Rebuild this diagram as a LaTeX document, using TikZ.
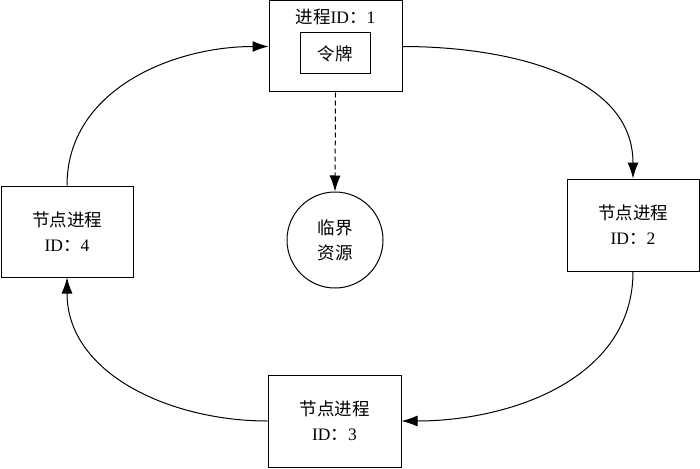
\documentclass[tikz,border=0pt]{standalone}
\usepackage{fontspec}
\setmainfont{Liberation Serif}
\newfontfamily\cjk{Noto Sans CJK SC}
\usetikzlibrary{arrows.meta}
\begin{document}
\begin{tikzpicture}[x=1pt,y=-1pt,
  box/.style={draw,line width=1pt,minimum width=#1,inner sep=0pt,align=center,font=\fontsize{17.5}{25}\selectfont},
  conn/.style={line width=1pt,-{Latex[length=16pt,width=11pt]}}]
\useasboundingbox (0,0) rectangle (700,468);
\node[box=133pt,minimum height=91pt] (top) at (335.5,46.5) {};
\node[font=\fontsize{17.5}{20}\selectfont] (title) at (335.5,17) {{\cjk 进程}ID{\cjk ：}1};
\node[box=70pt,minimum height=41pt] (token) at (335,53.5) {\cjk 令牌};
\node[box=132pt,minimum height=92pt] (right) at (633,225) {{\cjk 节点进程}\\ID{\cjk ：}2};
\node[box=132pt,minimum height=91pt] (left) at (67,231.5) {{\cjk 节点进程}\\ID{\cjk ：}4};
\node[box=133pt,minimum height=92pt] (bottom) at (334.5,421) {{\cjk 节点进程}\\ID{\cjk ：}3};
\node[draw,circle,line width=1pt,minimum size=96pt,inner sep=0pt,align=center,font=\fontsize{17.5}{25}\selectfont] (res) at (335,240) {\cjk 临界\\\cjk 资源};
\draw[conn] (left.north) to[out=90,in=180] (top.west);
\draw[conn] (top.east) to[out=0,in=90] (right.north);
\draw[conn] (right.south) to[out=-90,in=0] (bottom.east);
\draw[conn] (bottom.west) to[out=180,in=-90] (left.south);
\draw[conn,dash pattern=on 5pt off 3pt] (top.south) -- (res.north);
\end{tikzpicture}
\end{document}
